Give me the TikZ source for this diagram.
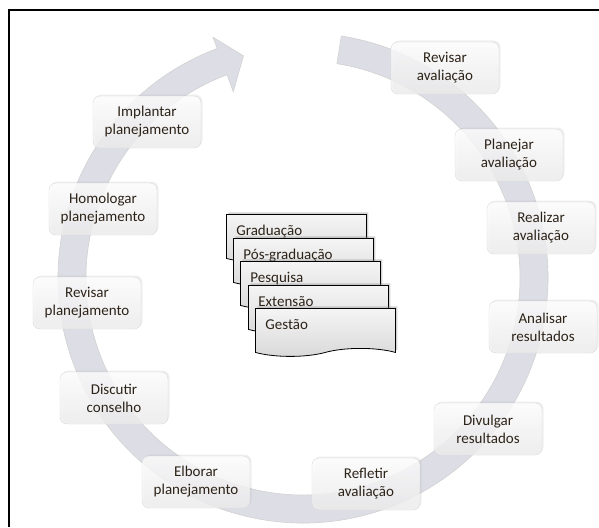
\documentclass[tikz,border=0pt]{standalone}
\usepackage{fontspec}
\setmainfont{Carlito}
\usetikzlibrary{shapes.symbols,shadows}
\definecolor{ringgray}{RGB}{221,221,230}
\definecolor{textdark}{RGB}{45,35,25}
\tikzset{
  stage/.style={rounded corners=7pt, draw=gray!30, shade, top color=white, bottom color=gray!14,
    fill opacity=0.8, text opacity=1, text=textdark, align=center,
    minimum width=108, minimum height=52, inner sep=2pt,
    font=\fontsize{15}{18}\selectfont,
    drop shadow={opacity=0.12, shadow xshift=1.5pt, shadow yshift=1.5pt}},
  doc/.style={tape, tape bend top=none, tape bend bottom=in and out, tape bend height=8pt,
    draw=black, line width=0.8pt, shade, top color=gray!8, bottom color=gray!30,
    text=textdark, anchor=north west, align=left, text width=120, inner xsep=10,
    inner ysep=5, text height=16, text depth=14, font=\fontsize{15}{18}\selectfont,
    drop shadow={opacity=0.35, shadow xshift=2pt, shadow yshift=2pt}}
}
\begin{document}
\begin{tikzpicture}[x=1pt,y=-1pt]
  \useasboundingbox[fill=white] (0,0) rectangle (599,527);
  \draw[line width=2.5pt] (8,10) -- (599,10);
  \draw[line width=2.5pt] (9,9) -- (9,527);

  \begin{scope}[shift={(303,278)}]
    \filldraw[ringgray, draw=gray!35, line width=0.6pt]
      (-81:245) arc[start angle=-81, end angle=249.5, radius=245]
      -- (249.5:257) -- (255:230) -- (249.5:199) -- (249.5:217)
      arc[start angle=249.5, end angle=-81, radius=217] -- cycle;
  \end{scope}

  \node[stage] (implantar) at (147,122) {Implantar\\planejamento};
  \node[stage] (homologar) at (103,209) {Homologar\\planejamento};
  \node[stage] (revplan) at (87,303) {Revisar\\planejamento};
  \node[stage] (discutir) at (114,398) {Discutir\\conselho};
  \node[stage] (elborar) at (196,482) {Elborar\\planejamento};
  \node[stage] (refletir) at (366,484) {Refletir\\avaliação};
  \node[stage] (divulgar) at (488,429) {Divulgar\\resultados};
  \node[stage] (analisar) at (543,327) {Analisar\\resultados};
  \node[stage] (realizar) at (541,228) {Realizar\\avaliação};
  \node[stage] (planejar) at (509,155) {Planejar\\avaliação};
  \node[stage] (revaval) at (445,68) {Revisar\\avaliação};

  \node[doc] (grad) at (226,214) {Graduação};
  \node[doc] (posgrad) at (233,238) {Pós-graduação};
  \node[doc] (pesq) at (240,261) {Pesquisa};
  \node[doc] (ext) at (248,285) {Extensão};
  \node[doc] (gest) at (255,308) {Gestão};
\end{tikzpicture}
\end{document}
